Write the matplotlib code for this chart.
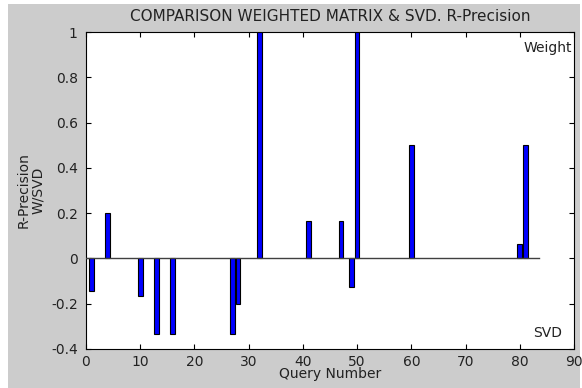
import numpy as np
import matplotlib
matplotlib.use('Agg')
import matplotlib.pyplot as plt
from matplotlib.patches import Rectangle

# R-Precision difference (Weighted matrix minus SVD) per query; queries not listed are 0
n_queries = 83
queries = [1, 4, 10, 13, 16, 27, 28, 32, 41, 47, 49, 50, 60, 80, 81]
diffs = [-0.143, 0.2, -0.167, -0.333, -0.333, -0.333, -0.2, 1.0,
         0.167, 0.167, -0.125, 1.0, 0.5, 0.0625, 0.5]

x_ticks = [0, 10, 20, 30, 40, 50, 60, 70, 80, 90]
y_ticks = [-0.4, -0.2, 0, 0.2, 0.4, 0.6, 0.8, 1]
y_labels = ['-0.4', '-0.2', '0', '0.2', '0.4', '0.6', '0.8', '1']

plt.rcParams['font.family'] = ['DejaVu Sans']
plt.rcParams['font.size'] = 10

fig = plt.figure(figsize=(5.82, 3.88), dpi=100, facecolor='white')
# grey window area (thin white margin on left/top/right)
fig.patches.append(Rectangle((8 / 582, 0), 572 / 582, 384 / 388,
                             transform=fig.transFigure, facecolor='#cccccc',
                             edgecolor='none', zorder=-10))

ax = fig.add_axes([86 / 582, 1 - 349 / 388, 488 / 582, 317 / 388])
ax.set_facecolor('white')

ax.bar(queries, diffs, width=0.85, color='#0000ff', edgecolor='black',
       linewidth=0.8, zorder=3)
ax.plot([0, n_queries + 0.5], [0, 0], color='#404040', lw=1.0, zorder=4)

ax.set_xlim(0, 90)
ax.set_ylim(-0.4, 1)
ax.set_xticks(x_ticks)
ax.set_yticks(y_ticks)
ax.set_yticklabels(y_labels)
ax.tick_params(direction='in', length=3.5, width=0.8, top=True, right=True,
               labelsize=10, colors='black', labelcolor='#222222')
ax.tick_params(axis='y', pad=6)
ax.tick_params(axis='x', pad=4)
for s in ax.spines.values():
    s.set_color('black')
    s.set_linewidth(0.8)

ax.set_title('COMPARISON WEIGHTED MATRIX & SVD. R-Precision', fontsize=11,
             pad=8, color='#222222')
ax.set_xlabel('Query Number', fontsize=10, labelpad=-1, color='#222222')
ax.set_ylabel('R-Precision\nW/SVD', fontsize=10, labelpad=4, linespacing=1.05,
              color='#222222')

ax.text(89.6, 0.93, 'Weight', ha='right', va='center', fontsize=10, color='#222222')
ax.text(87.9, -0.33, 'SVD', ha='right', va='center', fontsize=10, color='#222222')

fig.savefig('out.png', dpi=100, facecolor=fig.get_facecolor())
